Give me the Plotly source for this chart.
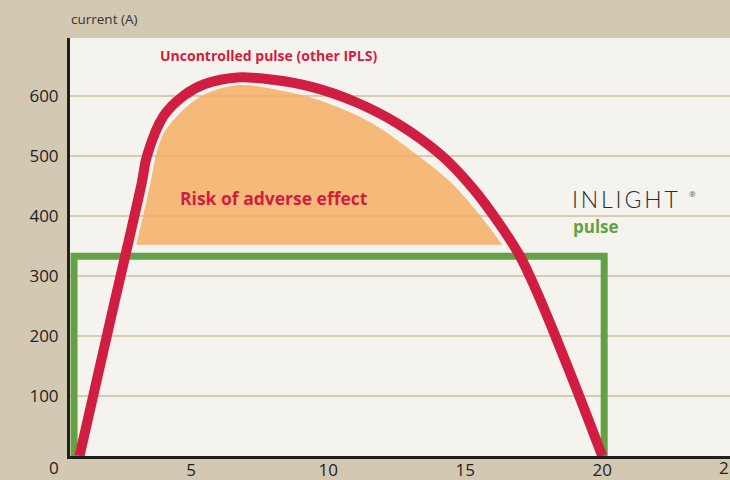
import plotly.graph_objects as go

# ---- data ----
red_x = [0.93, 2.1, 3.2, 3.39, 4.0, 4.74, 5.5, 6.69, 8.0, 9.5, 11.0, 12.5, 14.16, 15.3, 16.2, 17.0, 17.6, 18.2, 19.1, 20.0]
red_y = [0, 235, 455, 500, 567, 601, 620, 631, 627, 614, 590, 555, 500, 445, 390, 333, 275, 210, 107, 0]

risk_top_x = [3.0, 3.45, 3.9, 4.5, 5.42, 6.69, 8.27, 9.73, 11.55, 13.3, 14.5, 15.56, 16.35]
risk_top_y = [352, 440, 528, 567, 601, 618, 609, 592, 556, 500, 455, 400, 352]
risk_base_x = [3.0, 16.35]
risk_base_y = [352, 352]

pulse_x = [0.73, 0.73, 20.07, 20.07]
pulse_y = [0, 333, 333, 0]

x_ticks = [5, 10, 15, 20]
x_extra_ticks = [0, 25]
y_ticks = [100, 200, 300, 400, 500, 600]

X_RANGE = [0.583, 24.66]
Y_RANGE = [0, 696.7]

RED = "#D21D42"
GREEN = "#62A245"
TAN = "#D3C8B2"
CREAM = "#F5F3EE"
DARK = "#231F20"

fig = go.Figure()

fig.add_trace(go.Scatter(
    x=risk_base_x, y=risk_base_y, mode="lines",
    line=dict(width=0, color="rgba(0,0,0,0)"), hoverinfo="skip", showlegend=False))
fig.add_trace(go.Scatter(
    x=risk_top_x, y=risk_top_y, mode="lines", fill="tonexty",
    fillcolor="rgba(245,172,95,0.82)", line=dict(width=0, color="rgba(0,0,0,0)",
                                                  shape="spline", smoothing=1.0),
    hoverinfo="skip", showlegend=False))

fig.add_trace(go.Scatter(
    x=pulse_x, y=pulse_y, mode="lines",
    line=dict(color=GREEN, width=7), hoverinfo="skip", showlegend=False))

fig.add_trace(go.Scatter(
    x=red_x, y=red_y, mode="lines",
    line=dict(color=RED, width=10, shape="spline", smoothing=1.0),
    hoverinfo="skip", showlegend=False))

font_family = "Open Sans"

def xpaper(v):
    return (v - X_RANGE[0]) / (X_RANGE[1] - X_RANGE[0])

def xpx(px):
    return xpaper((px - 53) / 27.45)

def ypx(py):
    return (457 - py) / 0.6

annotations = [
    dict(x=xpaper(x_extra_ticks[0]), y=0, xref="paper", yref="paper",
         text=str(x_extra_ticks[0]), showarrow=False, xanchor="center", yanchor="top",
         yshift=2, font=dict(family=font_family, size=17, color=DARK)),
    dict(x=xpx(717), y=0, xref="paper", yref="paper",
         text=str(x_extra_ticks[1]), showarrow=False, xanchor="left", yanchor="top",
         yshift=2, font=dict(family=font_family, size=17, color=DARK)),
]

annotations += [
    dict(x=0, y=1, xref="paper", yref="paper", text="current (A)", showarrow=False,
         xanchor="left", yanchor="bottom", yshift=8, xshift=-1,
         font=dict(family=font_family, size=13.5, color="#333333")),
    dict(x=xpx(268), y=ypx(56), xref="paper", yref="y",
         text="<b>Uncontrolled pulse (other IPLS)</b>", showarrow=False,
         xanchor="center", yanchor="middle",
         font=dict(family=font_family, size=14, color=RED)),
    dict(x=xpx(273), y=ypx(199), xref="paper", yref="y",
         text="<b>Risk of adverse effect</b>", showarrow=False,
         xanchor="center", yanchor="middle",
         font=dict(family=font_family, size=17.5, color=RED)),
    dict(x=xpx(570), y=ypx(200), xref="paper", yref="y",
         text="I\u2009N\u2009L\u2009I\u2009G\u2009H\u2009T", showarrow=False,
         xanchor="left", yanchor="middle",
         font=dict(family="Lato", size=23, color="#2A2A2A", weight=300)),
    dict(x=xpx(692), y=ypx(194), xref="paper", yref="y",
         text="®", showarrow=False, xanchor="center", yanchor="middle",
         font=dict(family=font_family, size=8, color="#555555")),
    dict(x=xpx(571), y=ypx(227), xref="paper", yref="y",
         text="<b>pulse</b>", showarrow=False, xanchor="left", yanchor="middle",
         font=dict(family=font_family, size=17, color=GREEN)),
]

fig.update_layout(
    width=730, height=480,
    margin=dict(l=70, r=0, t=38, b=24, pad=0, autoexpand=False),
    paper_bgcolor=TAN, plot_bgcolor=CREAM,
    showlegend=False,
    annotations=annotations,
    xaxis=dict(range=X_RANGE, tickvals=x_ticks, ticktext=[str(v) for v in x_ticks],
               automargin=False,
               showgrid=False, zeroline=False, showline=True, linecolor=DARK, linewidth=3,
               ticks="", ticklabelstandoff=-3,
               tickfont=dict(family=font_family, size=17, color=DARK), fixedrange=True),
    yaxis=dict(range=Y_RANGE, tickvals=y_ticks, ticktext=[str(v) for v in y_ticks],
               automargin=False,
               showgrid=True, gridcolor="#D6CBB2", gridwidth=2, zeroline=False,
               showline=True, linecolor=DARK, linewidth=3,
               ticks="outside", ticklen=5, tickcolor="rgba(0,0,0,0)",
               tickfont=dict(family=font_family, size=17, color=DARK), fixedrange=True),
)

fig.write_html(
    "out.html",
    config={"displayModeBar": False},
    post_script="document.body.style.margin='0';document.body.style.background='#D3C8B2';",
)
